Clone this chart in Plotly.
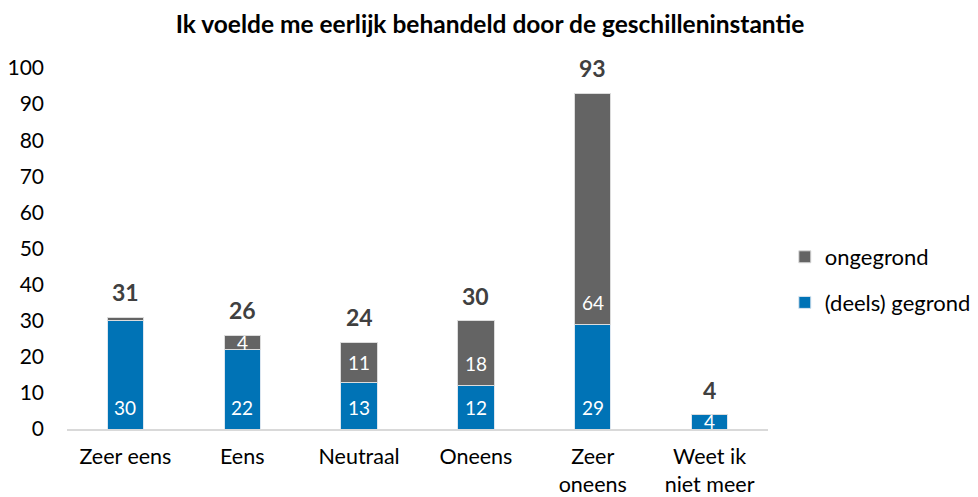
import plotly.graph_objects as go

categories = ["Zeer eens", "Eens", "Neutraal", "Oneens", "Zeer<br>oneens", "Weet ik<br>niet meer"]
gegrond = [30, 22, 13, 12, 29, 4]
ongegrond = [1, 4, 11, 18, 64, 0]
totals = [a + b for a, b in zip(gegrond, ongegrond)]

BLUE = "#0073B6"
GREY = "#646464"
FONT = "Lato"

# page body adds an 8px margin, so the figure is 16px smaller than the window
W, H = 970, 489
ML, MT = 59, 60
PW, PH = 701, 361
MR = W - ML - PW
MB = H - MT - PH
px_per_unit = PH / 100.0

fig = go.Figure()
fig.add_trace(go.Bar(x=categories, y=gegrond, name="(deels) gegrond", legendgroup="g",
                     legendrank=2,
                     marker=dict(color=BLUE, line=dict(color="#DCE6F0", width=1)),
                     width=0.31))
fig.add_trace(go.Bar(x=categories, y=ongegrond, name="ongegrond", legendgroup="o",
                     legendrank=1,
                     marker=dict(color=GREY, line=dict(color="#DCDCDC", width=1)),
                     width=0.31))

annotations = []
for i, c in enumerate(categories):
    for base, val in ((0, gegrond[i]), (gegrond[i], ongegrond[i])):
        if val < 2:
            continue
        shift = min(22, val * px_per_unit / 2)
        annotations.append(dict(x=c, y=base, text=str(val), showarrow=False,
                                yshift=shift, yanchor="middle",
                                font=dict(family=FONT, size=19, color="white")))
    annotations.append(dict(x=c, y=totals[i], text="<b>%d</b>" % totals[i], showarrow=False,
                            yshift=25, yanchor="middle",
                            font=dict(family=FONT, size=23, color="#404040")))

fig.update_layout(
    width=W, height=H,
    barmode="stack",
    plot_bgcolor="white", paper_bgcolor="white",
    margin=dict(l=ML, r=MR, t=MT, b=MB, autoexpand=False),
    title=dict(text="<b>Ik voelde me eerlijk behandeld door de geschilleninstantie</b>",
               x=(490 - 8 - ML) / PW, xref="paper", xanchor="center",
               y=1 - 16 / H, yanchor="middle",
               font=dict(family=FONT, size=24.5, color="#000000")),
    font=dict(family=FONT, size=22, color="#000000"),
    xaxis=dict(showline=True, linecolor="#D9D9D9", linewidth=2, ticks="",
               ticklabelstandoff=7,
               tickfont=dict(family=FONT, size=21.5, color="#000000"), showgrid=False),
    yaxis=dict(range=[0, 100], dtick=10, showgrid=False, showline=False, zeroline=False,
               ticks="", ticklabelstandoff=22,
               tickfont=dict(family=FONT, size=21, color="#000000")),
    legend=dict(x=1.024, y=(429 - 280) / PH, xanchor="left", yanchor="middle",
                traceorder="grouped",
                font=dict(family=FONT, size=22, color="#000000"), tracegroupgap=14,
                itemwidth=30),
    annotations=annotations,
    showlegend=True,
)

fig.write_html("out.html")
